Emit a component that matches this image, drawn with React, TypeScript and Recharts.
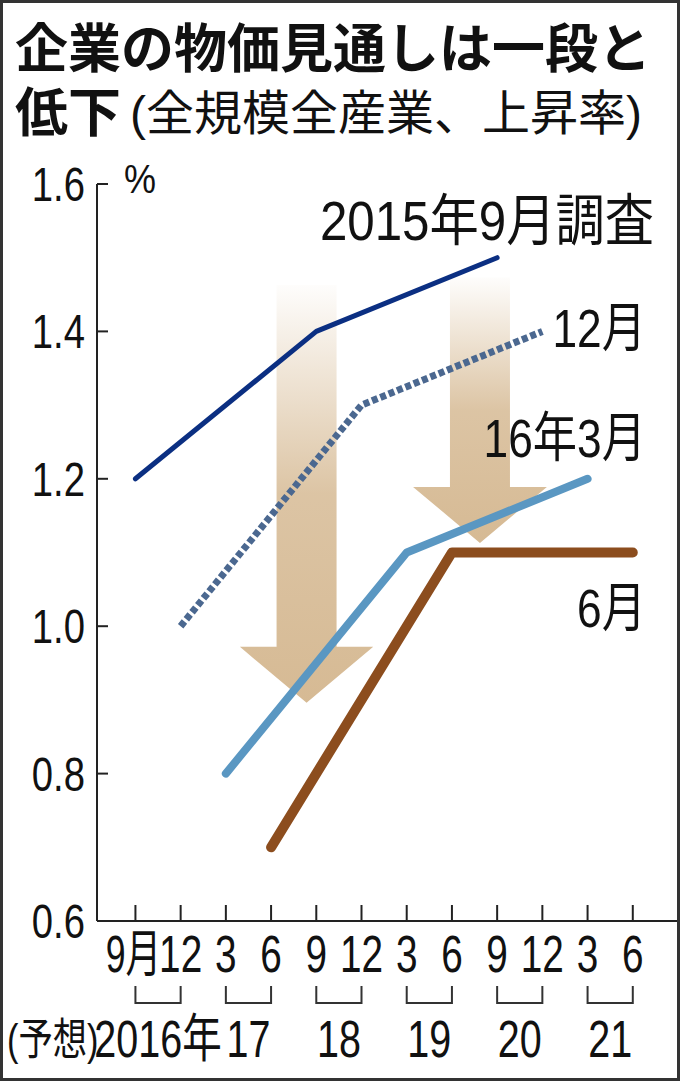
import { LineChart, Line, XAxis, YAxis, ReferenceArea } from "recharts";

const months = ["9月", "12", "3", "6", "9", "12", "3", "6", "9", "12", "3", "6"];
const years = ["2016年", "17", "18", "19", "20", "21"];
const yTicks = [0.6, 0.8, 1.0, 1.2, 1.4, 1.6];

// each survey: positions on the month axis and the forecast values
const sep2015X = [0, 4, 8];
const sep2015 = [1.2, 1.4, 1.5];
const dec2015X = [1, 5, 9];
const dec2015 = [1.0, 1.3, 1.4];
const mar2016X = [2, 6, 10];
const mar2016 = [0.8, 1.1, 1.2];
const jun2016X = [3, 7, 11];
const jun2016 = [0.7, 1.1, 1.1];

// big downward arrows (x1, x2, yBottom, yTop in data units)
const arrows = [
  { id: "arr1", x1: 2.31, x2: 5.26, y1: 0.896, y2: 1.463 },
  { id: "arr2", x1: 6.14, x2: 9.1, y1: 1.113, y2: 1.473 },
];

const W = 680;
const H = 1081;
const X_DOMAIN: [number, number] = [-0.85, 12];
const PLOT_W = W - 97 - 2;
const STEP = PLOT_W / (X_DOMAIN[1] - X_DOMAIN[0]);

const NUM_FONT = "'Liberation Sans', 'Noto Sans CJK JP', sans-serif";
const CJK_FONT = "'Noto Sans CJK JP', sans-serif";

const toData = (xs: number[], vs: number[]) => xs.map((x, i) => ({ x, v: vs[i] }));

// condensed text: newspaper figures are narrow
function NText({ x, y, size, sx = 0.8, anchor = "start", children }: any) {
  return (
    <text
      transform={`translate(${x},${y}) scale(${sx},1)`}
      textAnchor={anchor}
      fontSize={size}
      fontFamily={NUM_FONT}
      fill="#111"
    >
      {children}
    </text>
  );
}

function MonthTick(props: any) {
  const { x, y, payload } = props;
  const i = payload.value as number;
  return (
    <g>
      <line x1={x} y1={y} x2={x} y2={y - 16} stroke="#222" strokeWidth={2} />
      <NText x={i === 0 ? x - 2 : x} y={y + 51} size={51} sx={i === 0 ? 0.7 : 0.76} anchor="middle">
        {months[i]}
      </NText>
      {i % 2 === 0 && (
        <>
          <path
            d={`M${x},${y + 65}V${y + 82}H${x + STEP}V${y + 65}`}
            fill="none"
            stroke="#333"
            strokeWidth={2}
          />
          <NText x={x + STEP / 2} y={y + 136} size={52} sx={0.76} anchor="middle">
            {years[i / 2]}
          </NText>
        </>
      )}
      {i === 0 && (
        <NText x={x - 37} y={y + 134} size={44} sx={0.78} anchor="end">
          (予想)
        </NText>
      )}
    </g>
  );
}

function ValueTick(props: any) {
  const { x, y, payload } = props;
  const v = payload.value as number;
  return (
    <g>
      <line x1={x} y1={y} x2={x + 11} y2={y} stroke="#222" strokeWidth={2} />
      <NText x={x - 12} y={y + 17} size={49} sx={0.78} anchor="end">
        {v.toFixed(1)}
      </NText>
      {v === 1.6 && (
        <NText x={x + 27} y={y + 9} size={40} sx={0.9}>
          %
        </NText>
      )}
    </g>
  );
}

function Arrow(props: any) {
  const { x, y, width: w, height: h, id } = props;
  const headH = 56;
  const sw = 60;
  const cx = x + w / 2;
  const d = `M${cx - sw / 2},${y}H${cx + sw / 2}V${y + h - headH}H${x + w}L${cx},${y + h}L${x},${y + h - headH}H${cx - sw / 2}Z`;
  return (
    <g>
      <defs>
        <linearGradient id={id} x1="0" y1="0" x2="0" y2="1">
          <stop offset="0" stopColor="#d6ba94" stopOpacity={0.03} />
          <stop offset="0.5" stopColor="#d6ba94" stopOpacity={0.85} />
          <stop offset="1" stopColor="#d6ba94" stopOpacity={1} />
        </linearGradient>
      </defs>
      <path d={d} fill={`url(#${id})`} />
    </g>
  );
}

export default function App() {
  return (
    <div style={{ position: "absolute", left: 0, top: 0, width: W, height: H, background: "#fff" }}>
      <div style={{ position: "absolute", left: 0, top: 0 }}>
        <LineChart width={W} height={H} margin={{ top: 184, right: 2, bottom: 0, left: 0 }}>
          <XAxis
            type="number"
            dataKey="x"
            domain={X_DOMAIN}
            ticks={months.map((_, i) => i)}
            interval={0}
            allowDataOverflow
            height={160}
            tickSize={0}
            tickMargin={0}
            tickLine={false}
            axisLine={{ stroke: "#222", strokeWidth: 2 }}
            tick={<MonthTick />}
          />
          <YAxis
            type="number"
            domain={[0.6, 1.6]}
            ticks={yTicks}
            interval={0}
            width={97}
            tickSize={0}
            tickMargin={0}
            tickLine={false}
            axisLine={{ stroke: "#222", strokeWidth: 2 }}
            tick={<ValueTick />}
          />
          {arrows.map((a) => (
            <ReferenceArea
              key={a.id}
              x1={a.x1}
              x2={a.x2}
              y1={a.y1}
              y2={a.y2}
              ifOverflow="visible"
              shape={(p: any) => <Arrow {...p} id={a.id} />}
            />
          ))}
          <Line
            data={toData(sep2015X, sep2015)}
            dataKey="v"
            stroke="#0b2f82"
            strokeWidth={5}
            strokeLinecap="round"
            strokeLinejoin="round"
            dot={false}
            isAnimationActive={false}
          />
          <Line
            data={toData(dec2015X, dec2015)}
            dataKey="v"
            stroke="#4b6890"
            strokeWidth={7}
            strokeDasharray="6 3"
            dot={false}
            isAnimationActive={false}
          />
          <Line
            data={toData(mar2016X, mar2016)}
            dataKey="v"
            stroke="#5a97c2"
            strokeWidth={8}
            strokeLinecap="round"
            strokeLinejoin="round"
            dot={false}
            isAnimationActive={false}
          />
          <Line
            data={toData(jun2016X, jun2016)}
            dataKey="v"
            stroke="#8c4d1e"
            strokeWidth={10}
            strokeLinecap="round"
            strokeLinejoin="round"
            dot={false}
            isAnimationActive={false}
          />
        </LineChart>
      </div>
      <svg
        width={W}
        height={H}
        style={{ position: "absolute", left: 0, top: 0, pointerEvents: "none" }}
      >
        <text x={15} y={68} fontSize={53} fontWeight={700} fontFamily={CJK_FONT} fill="#111">
          企業の物価見通しは一段と
        </text>
        <text x={15} y={132} fontSize={53} fontWeight={700} fontFamily={CJK_FONT} fill="#111">
          低下
        </text>
        <NText x={130} y={130} size={48} sx={1}>
          (全規模全産業、上昇率)
        </NText>
        <NText x={654} y={240} size={56} sx={0.88} anchor="end">
          2015年9月調査
        </NText>
        <NText x={646} y={347} size={54} sx={0.82} anchor="end">
          12月
        </NText>
        <NText x={646} y={457} size={54} sx={0.82} anchor="end">
          16年3月
        </NText>
        <NText x={646} y={627} size={54} sx={0.82} anchor="end">
          6月
        </NText>
        <rect x={1.5} y={1.5} width={W - 3} height={H - 3} fill="none" stroke="#333" strokeWidth={3} />
      </svg>
    </div>
  );
}
